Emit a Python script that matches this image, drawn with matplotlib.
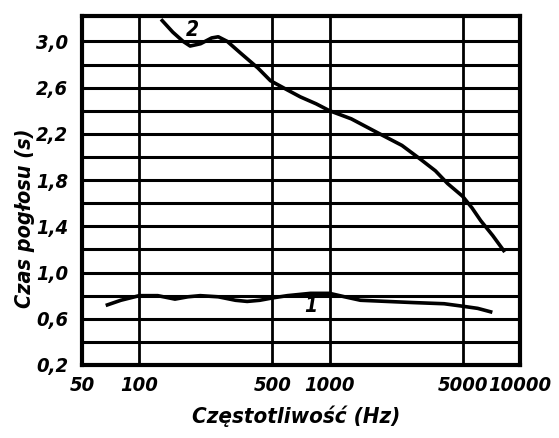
import matplotlib
matplotlib.use('Agg')
from matplotlib import pyplot as plt
from matplotlib import font_manager
from matplotlib.ticker import FixedLocator, FixedFormatter, NullLocator

# curve 2 (top)
freq_2 = [132, 150, 170, 185, 210, 240, 260, 290, 340, 420, 489, 600, 702, 850, 1000,
          1300, 1786, 2400, 3006, 3600, 4170, 5000, 5600, 6220, 7200, 8220]
time_2 = [3.18, 3.08, 3.00, 2.96, 2.98, 3.03, 3.04, 3.00, 2.90, 2.77, 2.66, 2.58, 2.52,
          2.46, 2.40, 2.33, 2.21, 2.10, 1.98, 1.88, 1.77, 1.66, 1.56, 1.45, 1.32, 1.19]

# curve 1 (bottom)
freq_1 = [68, 80, 100, 125, 154, 180, 209, 260, 320, 369, 430, 500, 600, 794, 1000,
          1200, 1453, 2000, 2760, 4000, 4930, 6000, 7020]
time_1 = [0.72, 0.76, 0.80, 0.80, 0.77, 0.79, 0.80, 0.79, 0.76, 0.75, 0.76, 0.78, 0.80,
          0.82, 0.82, 0.79, 0.76, 0.75, 0.74, 0.73, 0.71, 0.69, 0.66]

x_ticks = [50, 100, 500, 1000, 5000, 10000]
x_labels = ['50', '100', '500', '1000', '5000', '10000']
x_grid = [100, 500, 1000, 5000]
y_ticks = [0.2, 0.6, 1.0, 1.4, 1.8, 2.2, 2.6, 3.0]
y_labels = ['0,2', '0,6', '1,0', '1,4', '1,8', '2,2', '2,6', '3,0']
y_grid = [0.4, 0.6, 0.8, 1.0, 1.2, 1.4, 1.6, 1.8, 2.0, 2.2, 2.4, 2.6, 2.8, 3.0]

font = dict(family='DejaVu Sans', style='italic', stretch='condensed', weight='bold')

fig = plt.figure(figsize=(5.59, 4.38), dpi=100)
ax = fig.add_axes([0.1467, 0.1667, 0.7833, 0.7968])

ax.set_xscale('log')
ax.set_xlim(50, 10000)
ax.set_ylim(0.2, 3.22)

for g in x_grid:
    ax.axvline(g, color='black', lw=2.0, zorder=1)
for g in y_grid:
    ax.axhline(g, color='black', lw=2.2, zorder=1)

ax.plot(freq_2, time_2, color='black', lw=2.6, zorder=3, solid_joinstyle='round')
ax.plot(freq_1, time_1, color='black', lw=2.6, zorder=3, solid_joinstyle='round')

ax.text(190, 3.1, '2', fontsize=15, ha='center', va='center', **font)
ax.text(800, 0.71, '1', fontsize=15, ha='center', va='center', **font)

ax.xaxis.set_major_locator(FixedLocator(x_ticks))
ax.xaxis.set_major_formatter(FixedFormatter(x_labels))
ax.xaxis.set_minor_locator(NullLocator())
ax.yaxis.set_major_locator(FixedLocator(y_ticks))
ax.yaxis.set_major_formatter(FixedFormatter(y_labels))
ax.tick_params(axis='x', length=0, pad=8)
ax.tick_params(axis='y', length=0, pad=10)
for lab in ax.get_xticklabels() + ax.get_yticklabels():
    lab.set_fontproperties(font_manager.FontProperties(size=14.5, **font))

for sp in ax.spines.values():
    sp.set_linewidth(3.0)

ax.set_xlabel('Częstotliwość (Hz)', fontsize=16, **font)
ax.set_ylabel('Czas pogłosu (s)', fontsize=15.5, **font)
ax.xaxis.set_label_coords(0.49, -0.115)
ax.yaxis.set_label_coords(-0.108, 0.42)

fig.savefig('out.png', dpi=100)
